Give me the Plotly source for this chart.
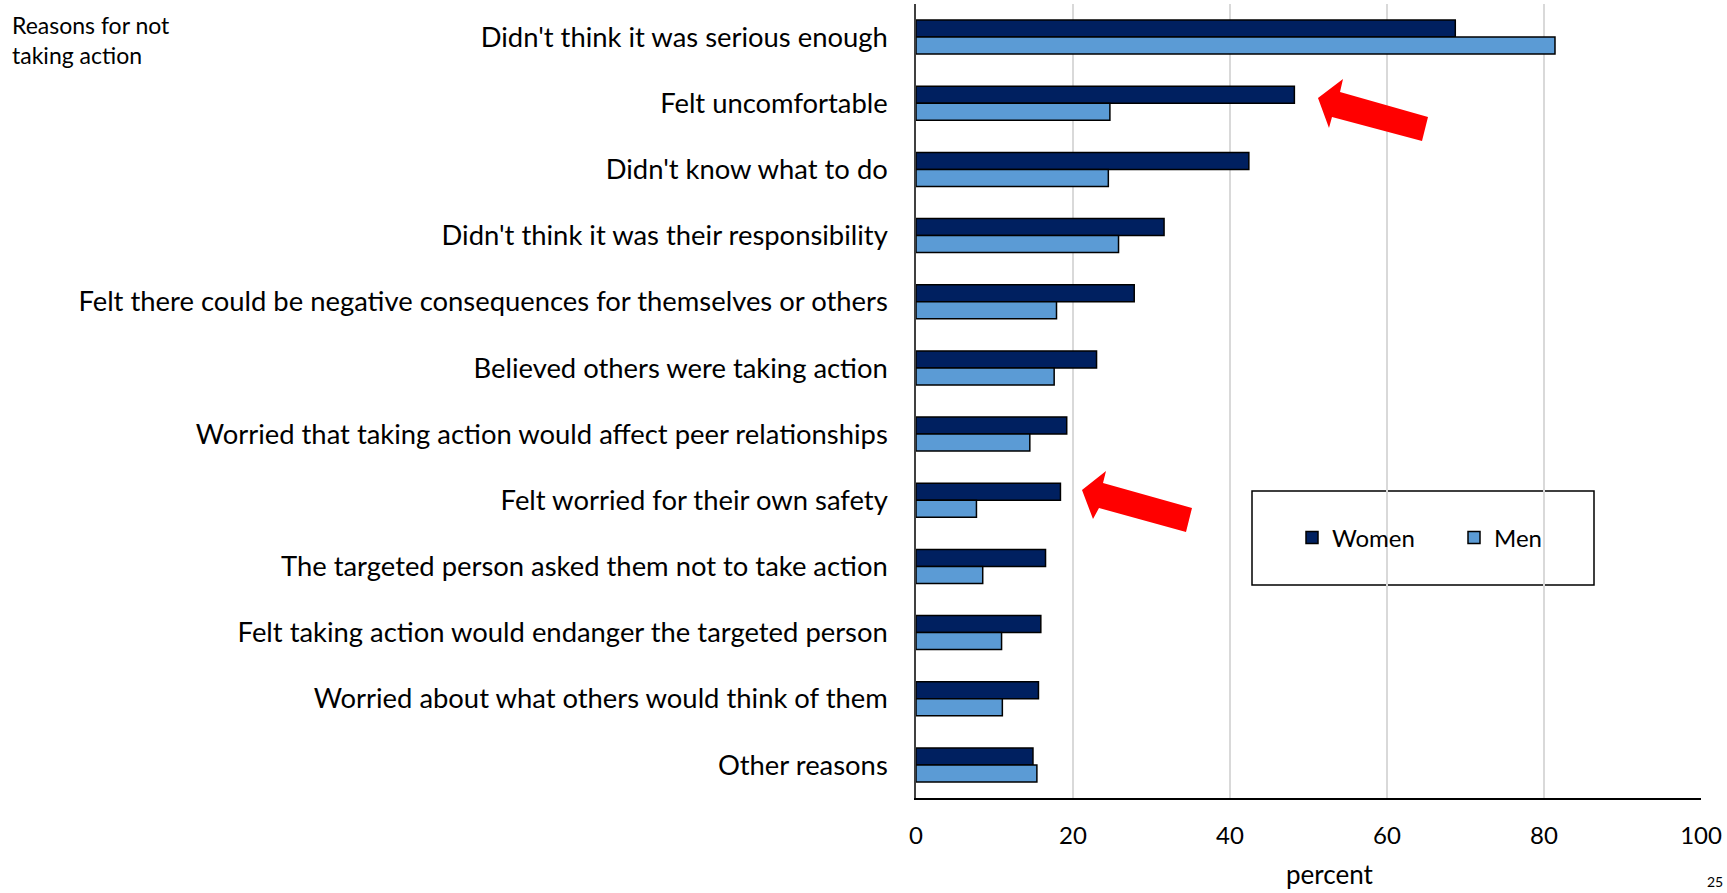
import plotly.graph_objects as go

# Survey results: reasons for not taking action, by gender (percent)
categories = [
    "Didn't think it was serious enough",
    "Felt uncomfortable",
    "Didn't know what to do",
    "Didn't think it was their responsibility",
    "Felt there could be negative consequences for themselves or others",
    "Believed others were taking action",
    "Worried that taking action would affect peer relationships",
    "Felt worried for their own safety",
    "The targeted person asked them not to take action",
    "Felt taking action would endanger the targeted person",
    "Worried about what others would think of them",
    "Other reasons",
]
women = [68.7, 48.2, 42.4, 31.6, 27.8, 23.0, 19.2, 18.4, 16.5, 15.9, 15.6, 14.9]
men = [81.4, 24.7, 24.5, 25.8, 17.9, 17.6, 14.5, 7.7, 8.5, 10.9, 11.0, 15.4]
x_ticks = [0, 20, 40, 60, 80, 100]

W, H = 1727, 893
ML, MR, MT, MB = 916, 26, 4, 95
PW, PH = W - ML - MR, H - MT - MB

FONT = "Lato, Carlito, sans-serif"
FS_LABEL = 27.4
FS_SMALL = 24


def px(x):
    return (x - ML) / PW


def py(y):
    return 1 - (y - MT) / PH


def arrow_path(pts):
    return "M " + " L ".join(f"{px(x):.5f},{py(y):.5f}" for x, y in pts) + " Z"


fig = go.Figure()
fig.add_trace(go.Bar(
    name="Women", y=categories, x=women, orientation="h",
    marker=dict(color="#002060", line=dict(color="#000000", width=1.5)),
))
fig.add_trace(go.Bar(
    name="Men", y=categories, x=men, orientation="h",
    marker=dict(color="#5B9BD5", line=dict(color="#000000", width=1.5)),
))

# red block arrows pointing at the highlighted bars
arrow_upper = [(1318, 98), (1343, 79), (1340, 92), (1428, 117), (1422, 141),
               (1332, 117), (1329, 128)]
arrow_lower = [(1082, 490), (1106, 471), (1103, 483), (1192, 508), (1186, 532),
               (1099, 508), (1093, 519)]
shapes = []
for pts in (arrow_upper, arrow_lower):
    shapes.append(dict(type="path", xref="paper", yref="paper", path=arrow_path(pts),
                       fillcolor="#FF0000", line=dict(width=0), layer="above"))

# legend frame
shapes.append(dict(type="rect", xref="paper", yref="paper",
                   x0=px(1252), x1=px(1594), y0=py(585), y1=py(491),
                   line=dict(color="#000000", width=1.5), fillcolor="white", layer="below"))

fig.update_layout(
    width=W, height=H,
    margin=dict(l=ML, r=MR, t=MT, b=MB, pad=0),
    paper_bgcolor="white", plot_bgcolor="white",
    font=dict(family=FONT, size=FS_SMALL, color="#000000"),
    barmode="group", bargap=0.486, bargroupgap=0,
    showlegend=True,
    legend=dict(orientation="h", x=px(1292), y=py(538), xanchor="left", yanchor="middle",
                bgcolor="rgba(0,0,0,0)", borderwidth=0, traceorder="normal",
                entrywidth=117, font=dict(family=FONT, size=FS_SMALL)),
    shapes=shapes,
    annotations=[
        dict(text="Reasons for not<br>taking action", xref="paper", yref="paper",
             x=px(10), y=py(9), xanchor="left", yanchor="top", align="left",
             showarrow=False, font=dict(family=FONT, size=23)),
        dict(text="percent", xref="paper", yref="paper",
             x=px(1329), y=py(874), xanchor="center", yanchor="middle",
             showarrow=False, font=dict(family=FONT, size=26)),
        dict(text="25", xref="paper", yref="paper",
             x=px(1725), y=py(892), xanchor="right", yanchor="bottom",
             showarrow=False, font=dict(family=FONT, size=14)),
    ],
)
fig.update_xaxes(
    range=[0, 100], tickvals=x_ticks, ticks="", showgrid=True,
    gridcolor="#D9D9D9", gridwidth=1.5, zeroline=False,
    showline=True, linecolor="#000000", linewidth=2, mirror=False,
    ticklabelstandoff=15, fixedrange=True,
)
fig.update_yaxes(
    autorange="reversed", ticks="", showgrid=False, zeroline=False,
    showline=True, linecolor="#404040", linewidth=1.5,
    tickfont=dict(family=FONT, size=FS_LABEL),
    ticklabelstandoff=21, fixedrange=True,
)

fig.write_html("out.html")
